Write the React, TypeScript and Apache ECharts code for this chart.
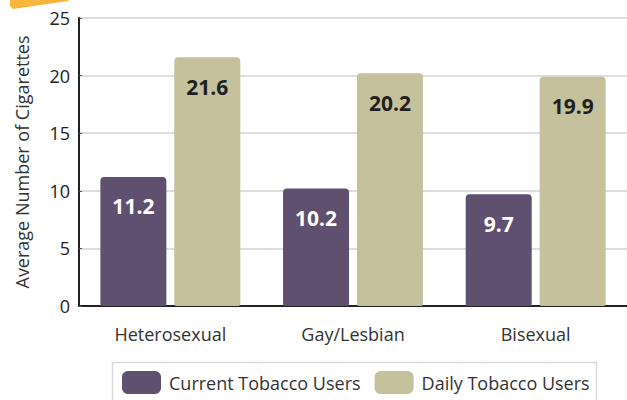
import React, { useEffect, useRef } from "react";
import * as echarts from "echarts";

const categories = ["Heterosexual", "Gay/Lesbian", "Bisexual"];
const currentUsers = [11.2, 10.2, 9.7];
const dailyUsers = [21.6, 20.2, 19.9];
const seriesNames = ["Current Tobacco Users", "Daily Tobacco Users"];

const FONT = "'Open Sans', 'Noto Sans', sans-serif";

export default function App() {
  const ref = useRef<HTMLDivElement>(null);
  useEffect(() => {
    if (!ref.current) return;
    const chart = echarts.init(ref.current, null, { renderer: "svg" });
    chart.setOption({
      animation: false,
      textStyle: { fontFamily: FONT },
      graphic: [
        {
          type: "polygon",
          shape: { points: [[10, -2], [72, -2], [68, 1], [13, 9], [10, 6]] },
          style: { fill: "#F7B53B" },
        },
        {
          type: "rect",
          shape: { x: 112.5, y: 362.5, width: 484, height: 45 },
          style: { fill: "none", stroke: "#DADADA", lineWidth: 1.5 },
        },
      ],
      grid: { left: 79, right: -6, top: 18, bottom: 94 },
      legend: {
        data: seriesNames,
        left: 122,
        top: 371,
        itemWidth: 39,
        itemHeight: 23,
        itemGap: 14,
        icon: "roundRect",
        textStyle: { fontSize: 18, color: "#333", fontFamily: FONT, padding: [0, 0, 0, 3] },
        padding: 0,
      },
      xAxis: {
        type: "category",
        data: categories,
        axisLine: { lineStyle: { color: "#222", width: 2 } },
        axisTick: { inside: true, length: 6, lineStyle: { color: "#222", width: 1.5 } },
        axisLabel: { fontSize: 18, color: "#333", margin: 19, fontFamily: FONT },
      },
      yAxis: {
        type: "value",
        min: 0,
        max: 25,
        interval: 5,
        name: "Average Number of Cigarettes",
        nameLocation: "middle",
        nameGap: 48,
        nameTextStyle: { fontSize: 18, color: "#333", fontFamily: FONT },
        axisLine: { show: true, lineStyle: { color: "#222", width: 2 } },
        axisTick: { show: true, inside: true, length: 3, lineStyle: { color: "#555" } },
        axisLabel: { fontSize: 18, color: "#222", margin: 9, fontFamily: FONT },
        splitLine: { lineStyle: { color: "#DDDDDD", width: 2 } },
      },
      series: [
        {
          name: seriesNames[0],
          type: "bar",
          data: currentUsers,
          barWidth: 66,
          barGap: "12%",
          itemStyle: { color: "#5F5070", borderRadius: [4, 4, 2, 2] },
          label: {
            show: true,
            position: "insideTop",
            distance: 19,
            color: "#FFFFFF",
            fontSize: 21,
            fontWeight: "bold",
            fontFamily: FONT,
            formatter: (p: any) => p.value.toFixed(1),
          },
        },
        {
          name: seriesNames[1],
          type: "bar",
          data: dailyUsers,
          barWidth: 66,
          itemStyle: { color: "#C4C19C", borderRadius: [4, 4, 2, 2] },
          label: {
            show: true,
            position: "insideTop",
            distance: 19,
            color: "#1F1F1F",
            fontSize: 21,
            fontWeight: "bold",
            fontFamily: FONT,
            formatter: (p: any) => p.value.toFixed(1),
          },
        },
      ],
    });
    return () => chart.dispose();
  }, []);
  return <div ref={ref} style={{ width: 627, height: 400, position: "absolute", left: 0, top: 0 }} />;
}
